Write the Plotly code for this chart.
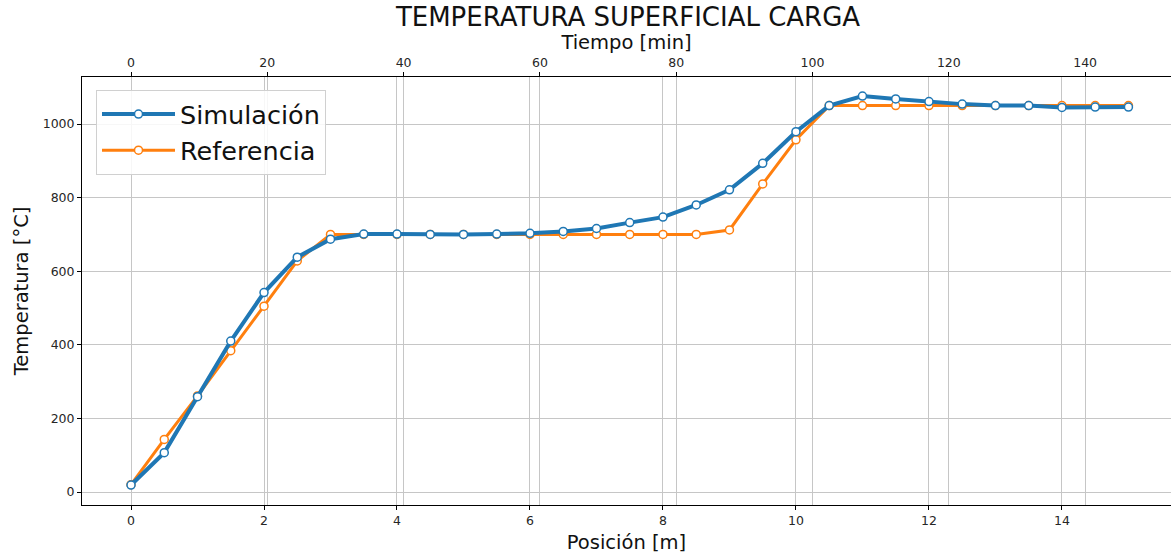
import plotly.graph_objects as go

# Posición a lo largo del horno [m]
posicion = [0, 0.5, 1, 1.5, 2, 2.5, 3, 3.5, 4, 4.5, 5, 5.5, 6, 6.5, 7, 7.5,
            8, 8.5, 9, 9.5, 10, 10.5, 11, 11.5, 12, 12.5, 13, 13.5, 14, 14.5, 15]

# Temperatura superficial de la carga [°C]
simulacion = [19, 107, 259, 410, 542, 638, 687, 701, 701, 700, 700, 701, 703, 708, 716, 732,
              747, 780, 821, 893, 979, 1050, 1076, 1068, 1061, 1054, 1050, 1050, 1045, 1046, 1046]
referencia = [20, 143, 261, 384, 505, 628, 700, 700, 700, 700, 700, 700, 700, 700, 700, 700,
              700, 700, 712, 837, 957, 1050, 1050, 1050, 1050, 1050, 1050, 1050, 1050, 1050, 1050]

# Eje secundario de tiempo [min]
tiempo_ticks = [0, 20, 40, 60, 80, 100, 120, 140]
posicion_ticks = [0, 2, 4, 6, 8, 10, 12, 14]
temperatura_ticks = [0, 200, 400, 600, 800, 1000]

AZUL = "#1f77b4"
NARANJA = "#ff7f0e"
GRID = "#c6c6c6"
TXT = "#262626"
FONT = "DejaVu Sans"

fig = go.Figure()

fig.add_trace(go.Scatter(
    x=posicion, y=referencia, name="Referencia", mode="lines+markers",
    line=dict(color=NARANJA, width=3),
    marker=dict(size=8, color="white", line=dict(color=NARANJA, width=1.5)),
    legendrank=2,
))
fig.add_trace(go.Scatter(
    x=posicion, y=simulacion, name="Simulación", mode="lines+markers",
    line=dict(color=AZUL, width=4),
    marker=dict(size=8, color="white", line=dict(color=AZUL, width=1.5)),
    legendrank=1,
))
# traza auxiliar para activar el eje de tiempo superior
fig.add_trace(go.Scatter(
    x=tiempo_ticks, y=[None] * len(tiempo_ticks), xaxis="x2", mode="lines",
    showlegend=False, hoverinfo="skip",
))

fig.update_layout(
    width=1171, height=558,
    margin=dict(l=82, r=0, t=77, b=53),
    paper_bgcolor="white", plot_bgcolor="white",
    font=dict(family=FONT, color=TXT),
    title=dict(text="TEMPERATURA SUPERFICIAL CARGA", font=dict(size=26, color="#111"),
               x=628 / 1171, xref="container", xanchor="center",
               y=1 - 17 / 558, yref="container", yanchor="middle"),
    xaxis=dict(
        range=[-0.737, 15.64], tickvals=posicion_ticks,
        showgrid=True, gridcolor=GRID, gridwidth=1, zeroline=False,
        showline=True, linecolor="black", linewidth=1,
        ticks="outside", ticklen=4, tickcolor="black",
        tickfont=dict(size=12.5, color=TXT),
        title=dict(text="Posición [m]", font=dict(size=19.5, color="#111"), standoff=8),
    ),
    xaxis2=dict(
        overlaying="x", side="top", anchor="y",
        range=[-7.19, 152.6], tickvals=tiempo_ticks,
        showgrid=True, gridcolor=GRID, gridwidth=1, zeroline=False,
        showline=True, linecolor="black", linewidth=1,
        ticks="outside", ticklen=4, tickcolor="black",
        tickfont=dict(size=12.5, color=TXT),
        title=dict(text="Tiempo [min]", font=dict(size=19.5, color="#111"), standoff=0),
    ),
    yaxis=dict(
        range=[-35.3, 1127.7], tickvals=temperatura_ticks,
        showgrid=True, gridcolor=GRID, gridwidth=1, zeroline=False,
        showline=True, linecolor="black", linewidth=1,
        ticks="outside", ticklen=4, tickcolor="black",
        tickfont=dict(size=12.5, color=TXT),
        title=dict(text="Temperatura [°C]", font=dict(size=19.5, color="#111"), standoff=8),
    ),
    legend=dict(
        x=(96 - 82) / 1089, y=1 - (90 - 77) / 428, xanchor="left", yanchor="top",
        bgcolor="rgba(255,255,255,0.85)", bordercolor="#d0d0d0", borderwidth=1,
        font=dict(size=25.5, color="#111"), itemwidth=73,
    ),
)

fig.write_html("out.html")
